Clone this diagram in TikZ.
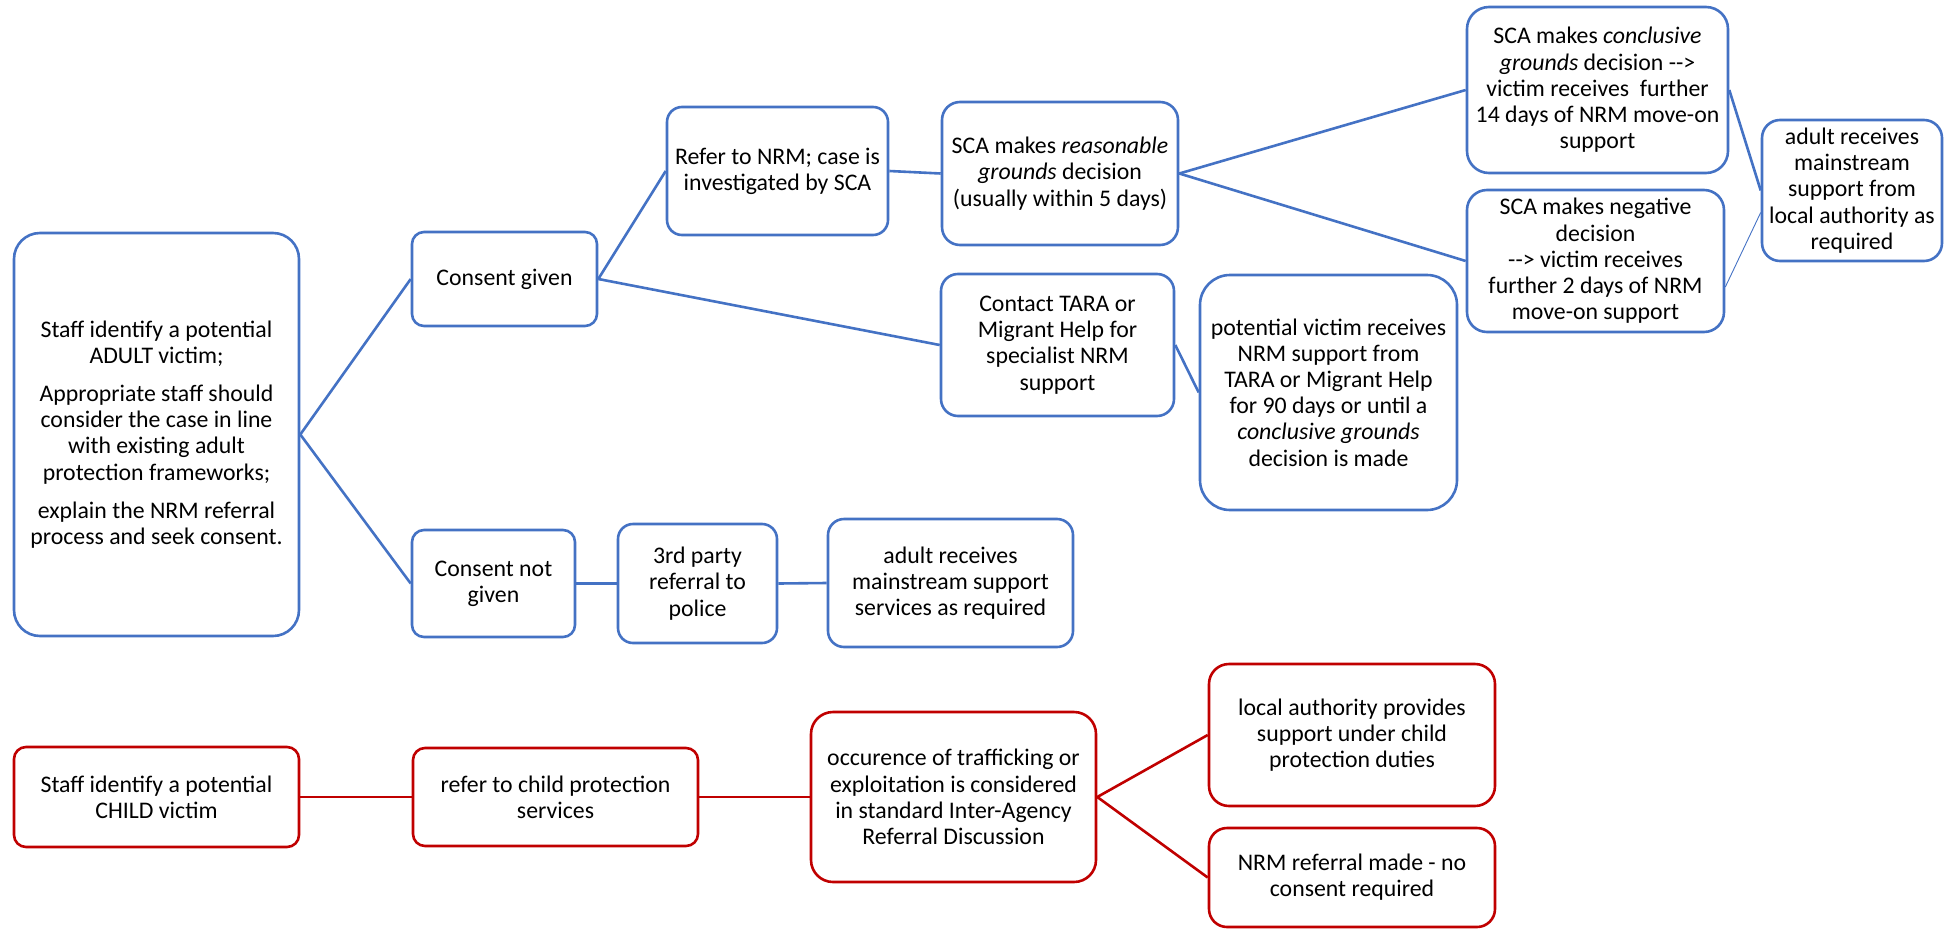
\documentclass[tikz,border=0pt]{standalone}
\usepackage{fontspec}
\setmainfont{Carlito}

\definecolor{adultblue}{HTML}{4472C4}
\definecolor{childred}{HTML}{C00000}

\begin{document}
\begin{tikzpicture}[x=1pt,y=-1pt,
    box/.style={draw, line width=2.6pt, rounded corners=#1, align=center, inner sep=0pt,
        text=black, font=\fontsize{23.8}{26.2}\selectfont},
    box/.default=15pt,
    wh/.style 2 args={minimum width=#1pt, minimum height=#2pt},
    bluebox/.style={box=#1, draw=adultblue}, bluebox/.default=15pt,
    redbox/.style={box=#1, draw=childred}, redbox/.default=15pt,
    blueline/.style={adultblue, line width=2.6pt},
    redline/.style={childred, line width=2.6pt}]
    \useasboundingbox (0,0) rectangle (1955,929);

    % Adult route
    \node[bluebox=26pt, wh={285}{403}] (adult) at (156.5,434.5) {Staff identify a potential\\ADULT victim;\\[12pt]Appropriate staff should\\consider the case in line\\with existing adult\\protection frameworks;\\[12pt]explain the NRM referral\\process and seek consent.};
    \node[bluebox=12pt, wh={185}{94}] (given) at (504.5,279) {Consent given};
    \node[bluebox=12pt, wh={163}{107}] (notgiven) at (493.5,583.5) {Consent not\\given};
    \node[bluebox, wh={221}{128}] (refer) at (777.5,171) {Refer to NRM; case is\\investigated by SCA};
    \node[bluebox=18pt, wh={236}{143}] (reasonable) at (1060,173.5) {SCA makes \textit{reasonable}\\\textit{grounds} decision\\(usually within 5 days)};
    \node[bluebox=17pt, wh={233}{142}] (tara) at (1057.5,345) {Contact TARA or\\Migrant Help for\\specialist NRM\\support};
    \node[bluebox=30pt, wh={257}{235}] (nrmsupport) at (1328.5,392.5) {potential victim receives\\NRM support from\\TARA or Migrant Help\\for 90 days or until a\\\textit{conclusive grounds}\\decision is made};
    \node[bluebox=22pt, wh={261}{166}] (conclusive) at (1597.5,90) {SCA makes \textit{conclusive}\\\textit{grounds} decision -{}-{}>\\victim receives\ \ further\\14 days of NRM move-on\\support};
    \node[bluebox=20pt, wh={257}{142}] (negative) at (1595.5,261) {SCA makes negative\\decision\\-{}-{}> victim receives\\further 2 days of NRM\\move-on support};
    \node[bluebox=18pt, wh={180}{141}] (localadult) at (1852,190.5) {adult receives\\mainstream\\support from\\local authority as\\required};
    \node[bluebox, wh={159}{119}] (police) at (697.5,583.5) {3rd party\\referral to\\police};
    \node[bluebox=16pt, wh={245}{128}] (mainstream) at (950.5,583) {adult receives\\mainstream support\\services as required};

    \draw[blueline] (adult.east) -- (given.west);
    \draw[blueline] (adult.east) -- (notgiven.west);
    \draw[blueline] (given.east) -- (refer.west);
    \draw[blueline] (given.east) -- (tara.west);
    \draw[blueline] (refer.east) -- (reasonable.west);
    \draw[blueline] (reasonable.east) -- (conclusive.west);
    \draw[blueline] (reasonable.east) -- (negative.west);
    \draw[blueline] (tara.east) -- (nrmsupport.west);
    \draw[blueline] (conclusive.east) -- (localadult.west);
    \draw[adultblue, line width=0.9pt] ([yshift=-26pt]negative.east) -- ([yshift=-22pt]localadult.west);
    \draw[blueline] (notgiven.east) -- (police.west);
    \draw[blueline] (police.east) -- (mainstream.west);

    % Child route
    \node[redbox=12pt, wh={285}{100}] (child) at (156.5,797) {Staff identify a potential\\CHILD victim};
    \node[redbox=12pt, wh={285}{98}] (childprot) at (555.5,797) {refer to child protection\\services};
    \node[redbox=22pt, wh={285}{170}] (interagency) at (953.5,797) {occurence of trafficking or\\exploitation is considered\\in standard Inter-Agency\\Referral Discussion};
    \node[redbox=20pt, wh={286}{142}] (localchild) at (1352,735) {local authority provides\\support under child\\protection duties};
    \node[redbox=18pt, wh={286}{99}] (noconsent) at (1352,877.5) {NRM referral made - no\\consent required};

    \draw[redline] (child.east) -- (childprot.west);
    \draw[redline] (childprot.east) -- (interagency.west);
    \draw[redline] (interagency.east) -- (localchild.west);
    \draw[redline] (interagency.east) -- (noconsent.west);
\end{tikzpicture}
\end{document}
